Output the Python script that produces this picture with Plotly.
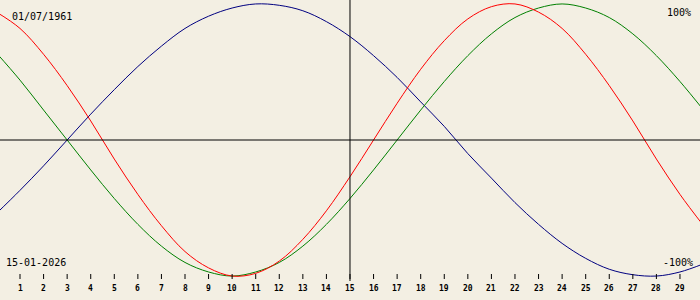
import plotly.graph_objects as go

days = list(range(0, 31))
physical = [0.94, 0.82, 0.63, 0.40, 0.14, -0.14, -0.40, -0.63, -0.82, -0.94,
            -1.00, -0.98, -0.89, -0.73, -0.52, -0.27, 0.00, 0.27, 0.52, 0.73,
            0.89, 0.98, 1.00, 0.94, 0.82, 0.63, 0.40, 0.14, -0.14, -0.40, -0.63]
emotional = [0.64, 0.44, 0.22, 0.00, -0.22, -0.43, -0.62, -0.78, -0.90, -0.97,
             -1.00, -0.97, -0.90, -0.78, -0.62, -0.43, -0.22, 0.00, 0.22, 0.43,
             0.62, 0.78, 0.90, 0.97, 1.00, 0.97, 0.90, 0.78, 0.62, 0.43, 0.22]
intellectual = [-0.54, -0.37, -0.19, 0.00, 0.19, 0.37, 0.54, 0.69, 0.82, 0.91,
                0.97, 1.00, 0.99, 0.95, 0.87, 0.76, 0.62, 0.46, 0.28, 0.10,
                -0.10, -0.28, -0.46, -0.62, -0.76, -0.87, -0.95, -0.99, -1.00, -0.97, -0.91]
tick_days = list(range(1, 30))
today = 15
birth_label = "01/07/1961"
date_label = "15-01-2026"

BG = "#F3EFE3"
fig = go.Figure()
for vals, col in [(intellectual, "#000080"), (emotional, "#008000"), (physical, "#FF0000")]:
    fig.add_trace(go.Scatter(x=days, y=vals, mode="lines", line=dict(color=col, width=1, shape="spline"),
                             hoverinfo="skip", showlegend=False))

shapes = [
    dict(type="line", xref="paper", yref="y", x0=0, x1=1, y0=0, y1=0, line=dict(color="black", width=1)),
    dict(type="line", xref="x", yref="paper", x0=today, x1=today, y0=1 - 281 / 300, y1=1, line=dict(color="black", width=1)),
]
annotations = []
for d in tick_days:
    shapes.append(dict(type="line", xref="x", yref="paper", x0=d, x1=d, y0=1 - 279 / 300, y1=1 - 274 / 300,
                       line=dict(color="black", width=1)))
    annotations.append(dict(x=d, y=1 - 288 / 300, xref="x", yref="paper", text="<b>%d</b>" % d, showarrow=False,
                            font=dict(family="DejaVu Sans Mono", size=8, color="black"), xanchor="center", yanchor="middle"))

mono = dict(family="DejaVu Sans Mono", size=10, color="black")
annotations += [
    dict(x=10 / 700, y=1 - 16 / 300, xref="paper", yref="paper", text=birth_label, showarrow=False, font=mono, xanchor="left", yanchor="middle"),
    dict(x=4 / 700, y=1 - 262 / 300, xref="paper", yref="paper", text=date_label, showarrow=False, font=mono, xanchor="left", yanchor="middle"),
    dict(x=693 / 700, y=1 - 12 / 300, xref="paper", yref="paper", text="100%", showarrow=False, font=mono, xanchor="right", yanchor="middle"),
    dict(x=695 / 700, y=1 - 262 / 300, xref="paper", yref="paper", text="-100%", showarrow=False, font=mono, xanchor="right", yanchor="middle"),
]

fig.update_layout(
    width=700, height=300, margin=dict(l=0, r=0, t=0, b=0),
    paper_bgcolor=BG, plot_bgcolor=BG,
    xaxis=dict(range=[0.151, 29.85], visible=False, fixedrange=True),
    yaxis=dict(range=[-1.176, 1.029], visible=False, fixedrange=True),
    shapes=shapes, annotations=annotations,
)
fig.write_html("out.html", config={"displayModeBar": False})
